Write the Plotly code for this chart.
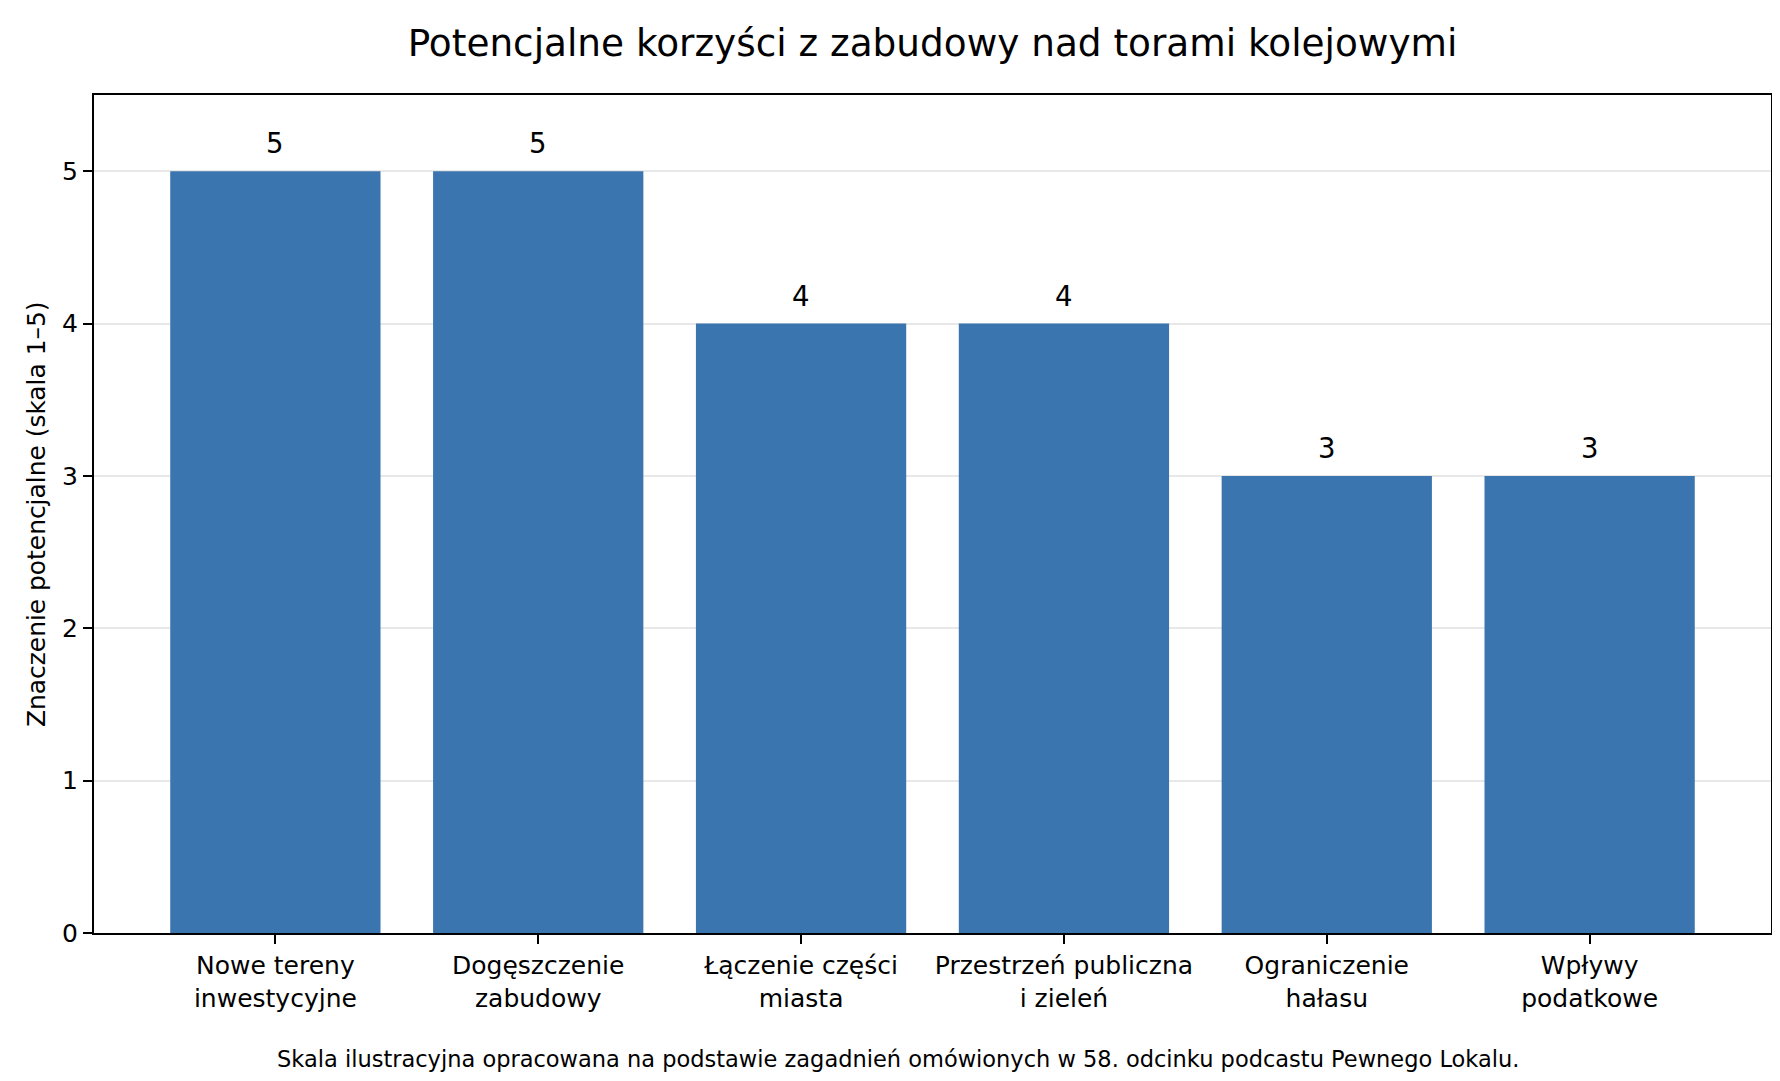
import plotly.graph_objects as go

# data
categories = ["Nowe tereny<br>inwestycyjne", "Dogęszczenie<br>zabudowy", "Łączenie części<br>miasta",
              "Przestrzeń publiczna<br>i zieleń", "Ograniczenie<br>hałasu", "Wpływy<br>podatkowe"]
values = [5, 5, 4, 4, 3, 3]
y_ticks = [0, 1, 2, 3, 4, 5]

title = "Potencjalne korzyści z zabudowy nad torami kolejowymi"
y_title = "Znaczenie potencjalne (skala 1–5)"
caption = "Skala ilustracyjna opracowana na podstawie zagadnień omówionych w 58. odcinku podcastu Pewnego Lokalu."

W, H = 1780, 1081
ml, mr, mt, mb = 86, 17, 87, 156
pw, ph = W - ml - mr, H - mt - mb
font = "DejaVu Sans"

fig = go.Figure(go.Bar(x=categories, y=values, width=0.8,
                       marker=dict(color="#3b75af", line=dict(width=0))))

# value labels above bars
for c, v in zip(categories, values):
    fig.add_annotation(x=c, y=v, text=str(v), showarrow=False, yanchor="bottom",
                       yshift=10, font=dict(size=27.5, color="black", family=font))

# y axis title
fig.add_annotation(xref="paper", yref="paper", x=(28 - ml) / pw, y=0.5,
                   text=y_title, textangle=-90, showarrow=False,
                   xanchor="center", yanchor="middle",
                   font=dict(size=24.9, color="black", family=font))

# caption, centred on the figure
fig.add_annotation(xref="paper", yref="paper", x=(W / 2 - ml) / pw, y=-(1051 - (H - mb)) / ph,
                   text=caption, showarrow=False, xanchor="center", yanchor="middle",
                   font=dict(size=22.5, color="black", family=font))

fig.update_layout(
    width=W, height=H,
    margin=dict(l=ml, r=mr, t=mt, b=mb),
    plot_bgcolor="white", paper_bgcolor="white",
    showlegend=False,
    font=dict(family=font, color="black", size=25),
    title=dict(text=title, xref="paper", x=0.5, xanchor="center", y=1 - 35 / H, yanchor="middle",
               font=dict(size=37.4, color="black", family=font)),
    bargap=0.2,
)
fig.update_xaxes(range=[-0.69, 5.69], showline=True, linecolor="black", linewidth=2, mirror=True,
                 ticks="outside", ticklen=9, tickwidth=2, tickcolor="black",
                 tickfont=dict(size=25, family=font, color="black"), showgrid=False, zeroline=False)
fig.update_yaxes(range=[0, 5.5], tickvals=y_ticks, showline=True, linecolor="black", linewidth=2, mirror=True,
                 ticks="outside", ticklen=9, tickwidth=2, tickcolor="black",
                 tickfont=dict(size=25, family=font, color="black"),
                 showgrid=True, gridcolor="#e8e8e8", gridwidth=1.5, zeroline=False)

fig.write_html("out.html")
